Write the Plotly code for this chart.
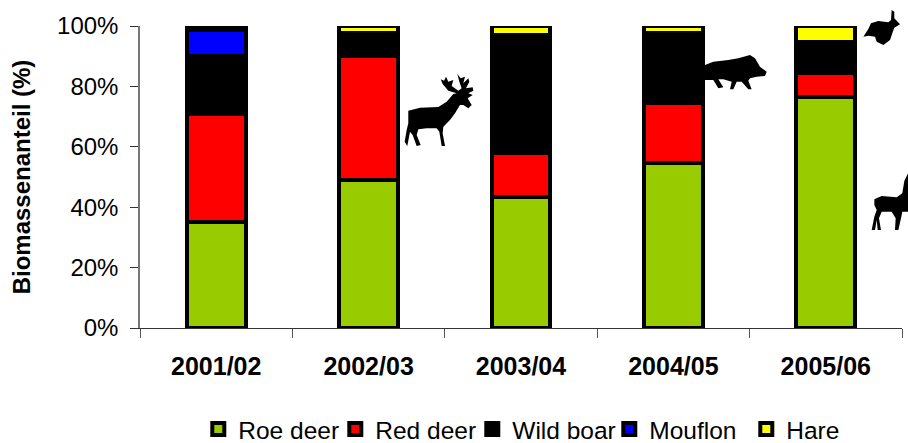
import plotly.graph_objects as go

seasons = ["2001/02", "2002/03", "2003/04", "2004/05", "2005/06"]
roe_deer = [35.0, 49.0, 43.5, 54.8, 76.6]
red_deer = [35.8, 41.0, 14.5, 19.8, 8.0]
wild_boar = [19.2, 7.8, 39.0, 23.2, 10.0]
mouflon = [8.8, 0.0, 0.0, 0.0, 0.0]
hare = [1.2, 2.2, 3.0, 2.2, 5.4]

series = [("Roe deer", roe_deer, "#99CC00"), ("Red deer", red_deer, "#FF0000"),
          ("Wild boar", wild_boar, "#000000"), ("Mouflon", mouflon, "#0000FF"),
          ("Hare", hare, "#FFFF00")]
y_ticks = [0, 20, 40, 60, 80, 100]

L, R, T, B = 140, 902, 26, 328

stag = [(25,152),(60,143),(115,141),(140,125),(160,102),(170,100),(145,92),(128,72),(122,58),(132,62),(138,50),(145,65),(160,60),(155,78),(175,92),(185,85),(178,65),(172,42),(182,55),(195,50),(190,70),(205,55),(208,65),(198,85),(218,82),(220,92),(205,100),(218,105),(203,115),(215,135),(205,145),(190,135),(180,135),(165,160),(150,180),(130,200),(128,220),(135,258),(125,258),(118,215),(110,205),(80,205),(55,208),(50,225),(62,255),(50,258),(38,225),(30,215),(22,258),(14,245),(20,210),(25,190)]
boar = [(15,45),(40,35),(85,30),(115,25),(150,15),(165,25),(180,50),(200,65),(195,78),(170,80),(150,85),(145,92),(155,118),(145,118),(125,95),(110,95),(100,118),(90,118),(95,95),(70,88),(55,88),(70,112),(55,115),(40,90),(15,90)]
rabbit = [(25,95),(40,72),(48,55),(70,48),(100,52),(108,45),(110,15),(118,20),(118,40),(135,58),(118,68),(112,85),(105,105),(85,120),(65,110),(60,95),(40,92)]
roe = [(28,88),(50,78),(95,82),(112,70),(118,32),(129,10),(129,125),(112,125),(108,145),(100,180),(90,180),(92,145),(80,125),(50,125),(42,145),(48,180),(38,180),(35,150),(30,180),(20,180),(28,140),(35,120),(28,105)]

def silhouette(pts, ox, oy):
    parts = []
    for i, (zx, zy) in enumerate(pts):
        px = (ox + zx / 3 - L) / (R - L)
        py = (B - (oy + zy / 3)) / (B - T)
        parts.append(("M" if i == 0 else "L") + f"{px:.4f},{py:.4f}")
    return dict(type="path", xref="paper", yref="paper", path=" ".join(parts) + " Z",
                fillcolor="black", line=dict(width=0), layer="above")

fig = go.Figure()
for name, vals, col in series:
    fig.add_bar(name=name, x=seasons, y=vals, cliponaxis=False,
                marker=dict(color=col, line=dict(color="black", width=4)), width=0.385)

font = "Liberation Sans, Arial, sans-serif"
fig.update_layout(
    barmode="stack", width=908, height=443,
    margin=dict(l=L, r=908 - R, t=T, b=443 - B, autoexpand=False),
    plot_bgcolor="white", paper_bgcolor="white", font=dict(family=font, color="black", size=24),
    showlegend=True,
    legend=dict(orientation="h", x=0.0765, xanchor="left", y=-0.335, yanchor="middle", traceorder="normal",
                entrywidth=92, font=dict(size=24.5), bgcolor="rgba(0,0,0,0)"),
    xaxis=dict(type="category", tickson="boundaries", ticks="outside", ticklen=9, tickwidth=1, tickcolor="#555555",
               showline=True, linecolor="#333333", linewidth=1, showgrid=False, automargin=False,
               ticklabelstandoff=16, tickfont=dict(family=font, size=25, weight="bold")),
    yaxis=dict(range=[0, 100], tickvals=y_ticks, ticktext=[f"{v}%" for v in y_ticks], ticks="outside", ticklen=8,
               tickwidth=1, tickcolor="#333333", showline=True, linecolor="#777777", linewidth=1.5, showgrid=False,
               zeroline=False, ticklabelstandoff=7, tickfont=dict(family=font, size=24), automargin=False,
               title=dict(text="Biomassenanteil (%)", font=dict(family=font, size=24, weight="bold"), standoff=20)),
    shapes=[silhouette(stag, 400, 60), silhouette(boar, 700, 50), silhouette(rabbit, 855, 5), silhouette(roe, 865, 170)],
)
fig.write_html("out.html", config={"displayModeBar": False}, post_script="document.body.style.margin='0';")
